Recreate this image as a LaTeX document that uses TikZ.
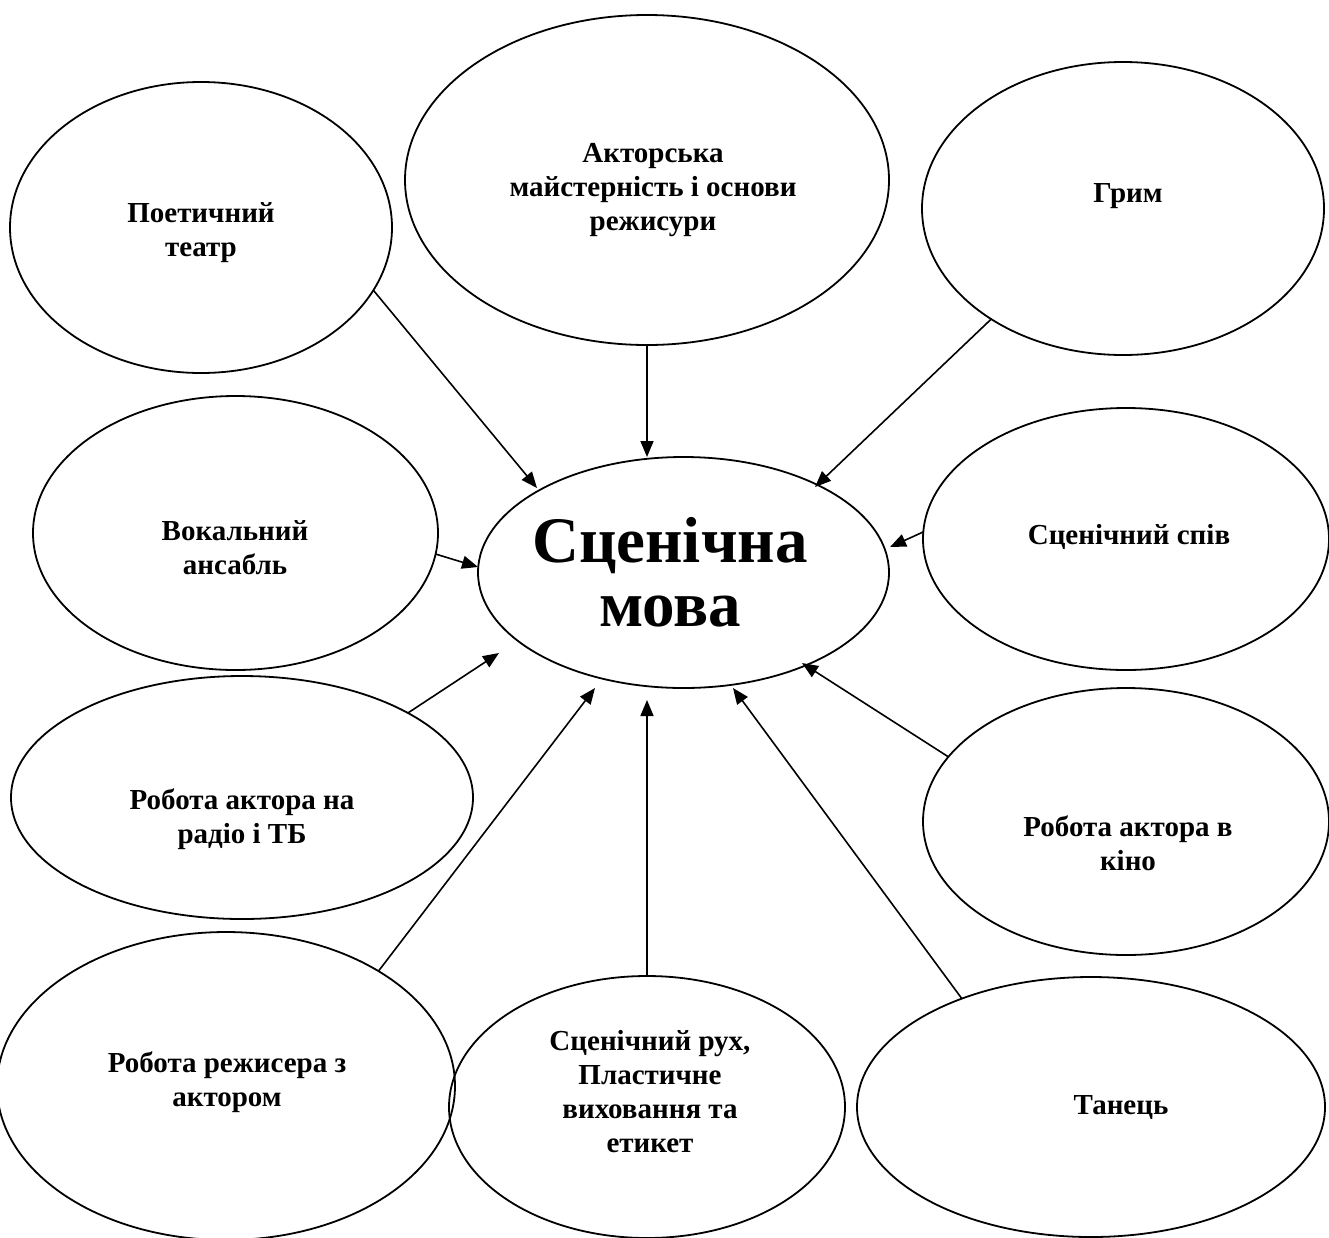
\documentclass[tikz,border=0pt]{standalone}
\usepackage{fontspec}
\setmainfont{Liberation Serif}
\usetikzlibrary{shapes.geometric,arrows.meta}
\tikzset{
  ell/.style={draw, ellipse, line width=1.8pt, inner sep=0pt, outer sep=0pt},
  lbl/.style={font=\bfseries\fontsize{29}{34}\selectfont, align=center, inner sep=0pt},
  big/.style={font=\bfseries\fontsize{65}{64}\selectfont, align=center, inner sep=0pt},
  arr/.style={line width=1.6pt, -{Triangle[length=16pt,width=13pt]}}
}
\begin{document}
\begin{tikzpicture}[x=1pt,y=-1pt]
\useasboundingbox (0,0) rectangle (1329,1237);
\clip (0,0) rectangle (1329,1237);
\fill[white] (0,0) rectangle (1329,1237);
% ellipses
\node[ell, minimum width=382pt, minimum height=291pt] (poet) at (201,227.5) {};
\node[ell, minimum width=484pt, minimum height=330pt] (akt) at (647,180) {};
\node[ell, minimum width=402pt, minimum height=293pt] (grym) at (1123,208.5) {};
\node[ell, minimum width=405pt, minimum height=274pt] (vok) at (235.5,533) {};
\node[ell, minimum width=411pt, minimum height=231pt] (mova) at (683.5,572.5) {};
\node[ell, minimum width=406pt, minimum height=262pt] (spiv) at (1126,539) {};
\node[ell, minimum width=462pt, minimum height=243pt] (radio) at (242,797.5) {};
\node[ell, minimum width=406pt, minimum height=267pt] (kino) at (1126,821.5) {};
\node[ell, minimum width=458pt, minimum height=308pt] (rezh) at (226,1086) {};
\node[ell, minimum width=396pt, minimum height=262pt] (rukh) at (647,1107) {};
\node[ell, minimum width=468pt, minimum height=260pt] (tan) at (1091,1107) {};
% labels
\node[lbl] (tpoet) at (201,233) {Поетичний\\театр};
\node[lbl] (takt) at (653,190) {Акторська\\майстерність і основи\\режисури};
\node[lbl] (tgrym) at (1128,196) {Грим};
\node[lbl] (tvok) at (235,548) {Вокальний\\ансабль};
\node[big] (tmova) at (670,572) {Сценічна\\мова};
\node[lbl] (tspiv) at (1129,537) {Сценічний спів};
\node[lbl] (tradio) at (242,819) {Робота актора на\\радіо і ТБ};
\node[lbl] (tkino) at (1128,843) {Робота актора в\\кіно};
\node[lbl] (trezh) at (227,1082) {Робота режисера з\\актором};
\node[lbl] (trukh) at (650,1092) {Сценічний рух,\\Пластичне\\виховання та\\етикет};
\node[lbl] (ttan) at (1121,1108) {Танець};
% arrow tips
\coordinate (p1) at (537,488);
\coordinate (p2) at (647,457);
\coordinate (p3) at (815,487);
\coordinate (p4) at (890,547);
\coordinate (p5) at (478,567);
\coordinate (p6) at (499,653);
\coordinate (p7) at (595,688);
\coordinate (p8) at (647,700);
\coordinate (p9) at (733,688);
\coordinate (p10) at (802,663);
% connectors
\draw[arr] (poet.-20.7) -- (p1);
\draw[arr] (akt.-90) -- (p2);
\draw[arr] (grym.-140.95) -- (p3);
\draw[arr] (spiv.178) -- (p4);
\draw[arr] (vok.-6) -- (p5);
\draw[arr] (radio.27) -- (p6);
\draw[arr] (rezh.37.7) -- (p7);
\draw[arr] (rukh.90) -- (p8);
\draw[arr] (tan.140.4) -- (p9);
\draw[arr] (kino.160.6) -- (p10);
\end{tikzpicture}
\end{document}
